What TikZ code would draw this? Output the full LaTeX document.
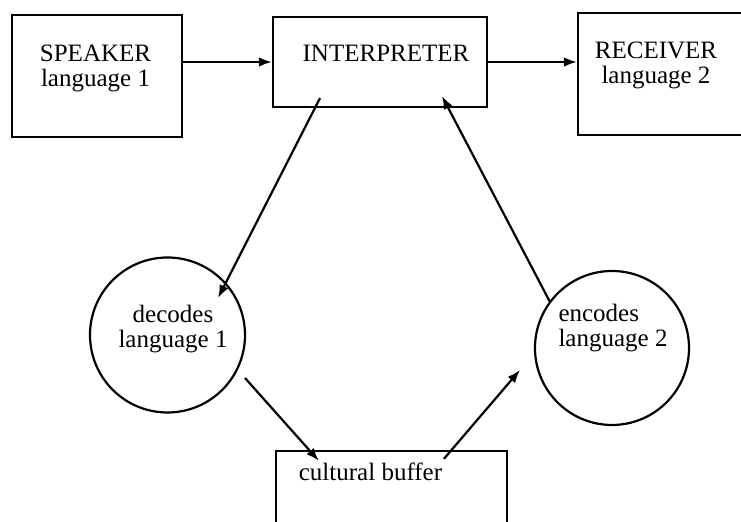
\documentclass[tikz,border=0pt]{standalone}
\usepackage{fontspec}
\setmainfont{Liberation Serif}
\usetikzlibrary{arrows.meta}

\begin{document}
\begin{tikzpicture}[x=0.5pt,y=-0.5pt,
  font=\fontsize{12.5}{12.5}\selectfont,
  line width=1.1pt, >={Latex[length=6.5pt,width=4.8pt]},
  box/.style={draw, rectangle, inner sep=0pt},
  bubble/.style={draw, circle, inner sep=0pt}]
\useasboundingbox (0,0) rectangle (741,522);
\clip (0,0) rectangle (741,522);

\node[box, minimum width=85pt, minimum height=61pt, label={[align=center, xshift=-0.75pt, yshift=4pt]center:SPEAKER\\language 1}](S) at (97,76) {};
\node[box, minimum width=107pt, minimum height=45pt, label={[xshift=3pt, yshift=4.25pt]center:INTERPRETER}](I) at (380,62) {};
\node[box, minimum width=87pt, minimum height=61pt, label={[align=center, xshift=-4.5pt, yshift=4.5pt]center:RECEIVER\\language 2}](R) at (665,74) {};
\node[bubble, minimum size=77.5pt, label={[align=center, xshift=2.75pt, yshift=2.75pt]center:decodes\\language 1}](D) at (167.5,335) {};
\node[bubble, minimum size=77pt, label={[align=left, xshift=0.5pt, yshift=9.75pt]center:encodes\\language 2}](E) at (612,348) {};
\node[box, minimum width=115.5pt, minimum height=54.5pt, label={[xshift=-10.5pt, yshift=17pt]center:cultural buffer}](C) at (391.5,505.5) {};

\draw[->] (S.east |- I.west) -- (I.west);
\draw[->] (I.east) -- (I.east -| R.west);
\draw[->] ([shift={(-60,-10)}]I.south) -- ([shift={(50.5,-37)}]D.center);
\draw[->] ([shift={(77.5,43)}]D.center) -- ([shift={(44,11)}]C.north west);
\draw[->] ([shift={(169,9)}]C.north west) -- ([shift={(-92,22)}]E.center);
\draw[->] ([shift={(-62,-46)}]E.center) -- ([shift={(62,-12)}]I.south);
\end{tikzpicture}
\end{document}
